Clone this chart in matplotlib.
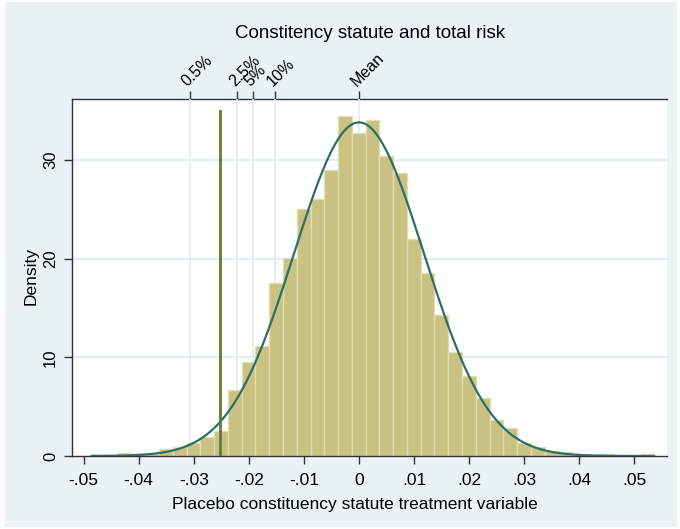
import numpy as np
import matplotlib
matplotlib.use("Agg")
import matplotlib.pyplot as plt
from matplotlib.patches import Rectangle

plt.rcParams['font.family'] = ['Liberation Sans', 'DejaVu Sans']

# ---------------- data ----------------
title = "Constitency statute and total risk"
xlabel = "Placebo constituency statute treatment variable"
ylabel = "Density"

bin_start = -0.0488
bin_width = 0.0025
densities = [0.12, 0.15, 0.30, 0.20, 0.25, 0.68, 0.95, 1.28, 1.95, 2.52,
             6.64, 9.56, 11.17, 17.55, 20.10, 25.07, 26.00, 29.00, 34.46, 32.77,
             34.02, 30.40, 28.70, 21.97, 18.53, 14.32, 10.50, 8.15, 5.92, 3.65,
             2.80, 1.28, 0.88, 0.50, 0.37, 0.20, 0.10, 0.20, 0.0, 0.0, 0.20]

normal_mean = 0.0
normal_sd = 0.0118

pct_values = [-0.0307, -0.0221, -0.0193, -0.0152, 0.0]
pct_labels = ["0.5%", "2.5%", "5%", "10%", "Mean"]

actual_value = -0.0252
actual_line_top = 35.0

xticks = [-0.05, -0.04, -0.03, -0.02, -0.01, 0.0, 0.01, 0.02, 0.03, 0.04, 0.05]
xticklabels = ["-.05", "-.04", "-.03", "-.02", "-.01", "0", ".01", ".02", ".03", ".04", ".05"]
yticks = [0, 10, 20, 30]

# ---------------- figure ----------------
W, H = 680, 529
fig = plt.figure(figsize=(W / 100, H / 100), dpi=100, facecolor="white")
bg = Rectangle((5 / W, 2 / H), (677 - 5) / W, (527 - 2) / H,
               transform=fig.transFigure, facecolor="#EAF2F3",
               edgecolor="none", zorder=-10)
fig.add_artist(bg)

left, right, top, bottom = 72, 667, 99, 456
ax = fig.add_axes([left / W, (H - bottom) / H, (right - left) / W, (bottom - top) / H])
ax.set_facecolor("white")

xmin = -0.05209
xmax = 0.0559
ax.set_xlim(xmin, xmax)
ax.set_ylim(0, 36.18)

grid_col = "#E3ECEE"
for y in yticks[1:]:
    ax.axhline(y, color=grid_col, lw=1.6, zorder=1)
for v in pct_values:
    ax.axvline(v, color=grid_col, lw=1.3, zorder=1)

edges = bin_start + bin_width * np.arange(len(densities))
ax.bar(edges, densities, width=bin_width, align="edge", color="#CAC282",
       edgecolor="#E2DDB2", linewidth=1.0, zorder=2)

xs = np.linspace(-0.0485, 0.0535, 600)
ys = np.exp(-0.5 * ((xs - normal_mean) / normal_sd) ** 2) / (normal_sd * np.sqrt(2 * np.pi))
ax.plot(xs, ys, color="#2D6E68", lw=1.6, zorder=3)

ax.plot([actual_value, actual_value], [0, actual_line_top], color="#5E7D36", lw=2.0, zorder=4)

for s in ["right", "top"]:
    ax.spines[s].set_visible(False)
for s in ["left", "bottom"]:
    ax.spines[s].set_color("#333333")
    ax.spines[s].set_linewidth(1.0)

ax.set_xticks(xticks)
ax.set_xticklabels(xticklabels)
ax.set_yticks(yticks)
ax.set_yticklabels([str(t) for t in yticks], rotation=90, va="center")
ax.tick_params(axis="both", direction="out", length=6, width=1.0, color="#333333",
               labelsize=12.5)
ax.tick_params(axis="x", pad=6.5)
ax.tick_params(axis="y", pad=4, labelsize=12)

fig.text(370 / W, 1 - 34 / H, title, fontsize=13.5, ha="center", va="center")
fig.text(355 / W, 1 - 504 / H, xlabel, fontsize=12.5, ha="center", va="center")
fig.text(31 / W, 1 - 276 / H, ylabel, fontsize=12.5, ha="center", va="center",
         rotation=90)

sec = ax.secondary_xaxis("top")
sec.set_xticks(pct_values)
sec.set_xticklabels(pct_labels, rotation=45, ha="left", va="bottom",
                    rotation_mode="anchor")
sec.tick_params(direction="out", length=6, width=1.0, color="#333333", labelsize=11.5, pad=1)
sec.spines["top"].set_color("#333333")
sec.spines["top"].set_linewidth(1.0)

fig.savefig("out.png", dpi=100, facecolor=fig.get_facecolor())
